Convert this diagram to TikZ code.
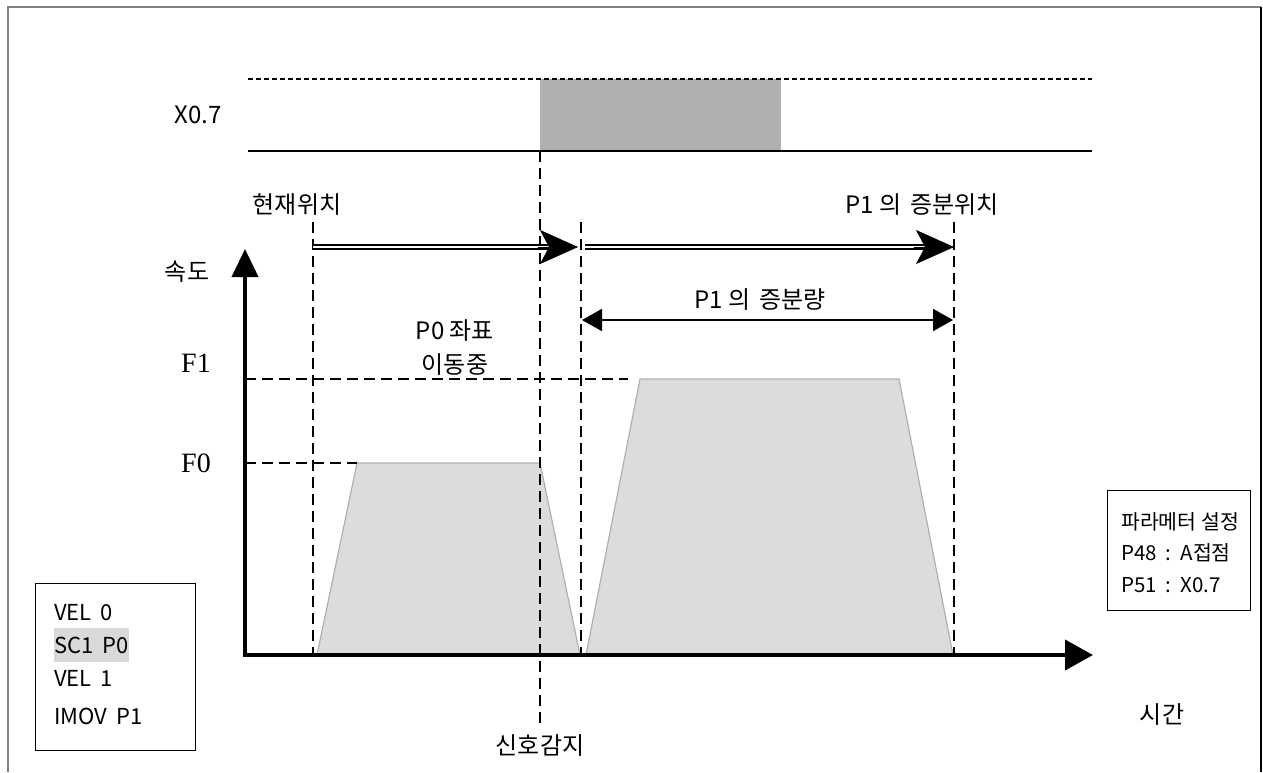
\documentclass[tikz,border=0pt]{standalone}
\usepackage{fontspec}
\setmainfont{Noto Sans CJK KR}
\newfontfamily\serifF{Liberation Serif}
\usetikzlibrary{arrows.meta}
\definecolor{sigfill}{HTML}{B0B0B0}
\definecolor{trapfill}{HTML}{DCDCDC}
\definecolor{trapline}{HTML}{B0B0B0}
\definecolor{framegray}{HTML}{808080}
\definecolor{hilite}{HTML}{D9D9D9}
\newcommand{\gap}{\hspace{9pt}}
\begin{document}
\begin{tikzpicture}[x=1pt,y=-1pt,
  lbl/.style={inner sep=0pt,font=\fontsize{24}{28}\selectfont},
  blbl/.style={inner sep=0pt,font=\fontsize{22}{26}\selectfont},
  plbl/.style={inner sep=0pt,font=\fontsize{20.5}{24}\selectfont},
  flbl/.style={inner sep=0pt,font=\fontsize{28}{32}\selectfont\serifF},
  guide/.style={line width=1.8pt,dash pattern=on 11pt off 6pt},
  sigdash/.style={line width=1.8pt,dash pattern=on 5pt off 3pt},
  axis/.style={line width=4pt},
  dbl/.style={line width=2pt,double distance=2.6pt},
  bigtip/.style={-{Stealth[length=38pt,width=34pt,inset=9pt]},line width=0.5pt},
  trap/.style={fill=trapfill,draw=trapline,line width=1.2pt},
  boxed/.style={draw,line width=1.3pt,inner sep=0pt}]
\useasboundingbox (0,0) rectangle (1263,772);
% frame
\draw[framegray,line width=2pt] (8,772) -- (8,7) -- (1261,7);
\draw[black,line width=1.5pt] (1261,7) -- (1261,772);

% signal
\fill[sigfill] (540,79) rectangle (781,151);
\coordinate (sigTL) at (248,79);
\coordinate (sigTR) at (1092,79);
\coordinate (sigBL) at (248,151);
\coordinate (sigBR) at (1092,151);
\draw[sigdash] (sigTL) -- (sigTR);
\draw[line width=2.2pt] (sigBL) -- (sigBR);
\node[lbl] (x07) at (198,115) {X0.7};

% trapezoids
\draw[trap] (317,655) -- (357,463) -- (540,463) -- (580,655) -- cycle;
\draw[trap] (586,655) -- (640,379) -- (899,379) -- (953,655) -- cycle;

% guide lines
\coordinate (g0t) at (313,222); \coordinate (g0b) at (313,655);
\coordinate (gst) at (540,151); \coordinate (gsb) at (540,724);
\coordinate (g1t) at (581,222); \coordinate (g1b) at (581,655);
\coordinate (g2t) at (954,222); \coordinate (g2b) at (954,655);
\draw[guide] (g0t) -- (g0b);
\draw[guide] (gst) -- (gsb);
\draw[guide] (g1t) -- (g1b);
\draw[guide] (g2t) -- (g2b);
\coordinate (f1a) at (245,379); \coordinate (f1b) at (628,379);
\coordinate (f0a) at (245,463); \coordinate (f0b) at (357,463);
\draw[guide] (f1a) -- (f1b);
\draw[guide] (f0a) -- (f0b);

% axes
\coordinate (orig) at (245,655);
\coordinate (ytip) at (245,249);
\coordinate (xtip) at (1093,655);
\draw[axis,-{Triangle[length=28pt,width=26pt]}] (orig) -- (ytip);
\draw[axis,-{Triangle[length=28pt,width=30pt]}] ([xshift=-2pt]orig) -- (xtip);

% double arrows
\coordinate (a1s) at (313,247); \coordinate (a1e) at (578,247);
\coordinate (a2s) at (585,247); \coordinate (a2e) at (954,247);
\draw[dbl] (a1s) -- ([xshift=-30pt]a1e);
\draw[bigtip] ([xshift=-40pt]a1e) -- (a1e);
\draw[dbl] (a2s) -- ([xshift=-30pt]a2e);
\draw[bigtip] ([xshift=-40pt]a2e) -- (a2e);

% increment arrow
\coordinate (i1) at (582,320); \coordinate (i2) at (953,320);
\draw[line width=2pt,{Triangle[length=20pt,width=22pt]}-{Triangle[length=20pt,width=22pt]}] (i1) -- (i2);

% labels
\node[lbl] (cur) at (297,205) {현재위치};
\node[lbl] (p1pos) at (922,205) {P1 의\gap 증분위치};
\node[lbl] (speed) at (187,272) {속도};
\node[lbl] (p0a) at (455,331) {P0 좌표};
\node[lbl] (p0b) at (455,365) {이동중};
\node[lbl] (p1inc) at (760,300) {P1 의\gap 증분량};
\node[flbl] (F1) at (196,363) {F1};
\node[flbl] (F0) at (196,463) {F0};
\node[lbl] (time) at (1162,715) {시간};
\node[lbl] (detect) at (540,745) {신호감지};

% program box
\node[boxed,minimum width=160pt,minimum height=167pt,anchor=north west] (prog) at (35,583) {};
\node[blbl,anchor=west] (l1) at (54,613) {VEL\gap 0};
\node[blbl,anchor=west,fill=hilite,minimum height=34pt] (l2) at (54,645) {SC1\gap P0};
\node[blbl,anchor=west] (l3) at (54,678) {VEL\gap 1};
\node[blbl,anchor=west] (l4) at (54,716) {IMOV\gap P1};

% parameter box
\node[boxed,minimum width=143pt,minimum height=120pt,anchor=north west] (par) at (1107,490) {};
\node[plbl,anchor=west] (q1) at (1121,522) {파라메터 설정};
\node[plbl,anchor=west] (q2) at (1121,553) {P48\gap:\gap A접점};
\node[plbl,anchor=west] (q3) at (1121,585) {P51\gap:\gap X0.7};
\end{tikzpicture}
\end{document}
